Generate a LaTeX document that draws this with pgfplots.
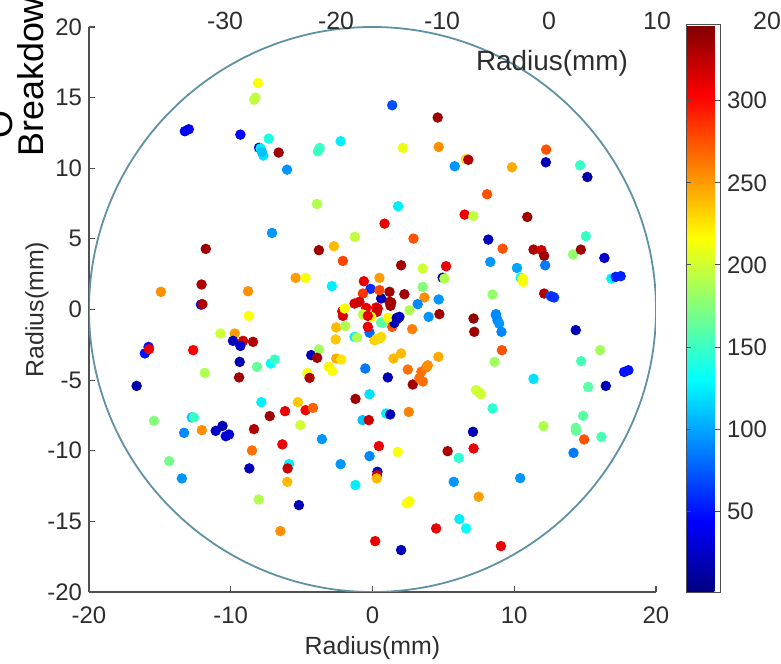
\documentclass[border=0pt]{standalone}
\usepackage{fontspec}
\setmainfont{Liberation Sans}
\usepackage{pgfplots}
\pgfplotsset{compat=1.18}
\definecolor{axgray}{RGB}{80,80,80}
\definecolor{txtgray}{RGB}{45,45,45}
\definecolor{wafer}{RGB}{95,145,165}

\pgfplotstableread{
x y c
-8.08 16.04 215
-8.35 14.85 195
-8.25 15.0 195
-13.24 12.62 40
-12.96 12.76 40
-9.32 12.38 45
-7.32 12.10 140
-8.0 11.45 30
-7.9 11.4 125
-7.7 10.9 120
-7.8 11.15 110
-6.62 11.11 335
-6.03 9.90 95
-3.85 11.20 150
-3.73 11.44 150
-2.25 11.91 125
-3.92 7.47 190
-7.09 5.42 95
-1.25 5.14 195
-11.76 4.29 335
-3.78 4.20 335
-2.72 4.48 240
-2.09 3.44 280
-5.42 2.24 250
-4.72 2.24 215
-14.93 1.25 255
-12.06 1.77 330
-12.1 0.35 40
-12.0 0.38 330
-8.78 1.29 255
-2.87 1.65 125
-0.61 2.00 310
-0.14 1.46 60
-8.73 -0.45 215
1.39 14.46 70
4.60 13.59 335
2.14 11.44 210
4.67 11.51 255
5.80 10.14 95
6.6 10.65 230
6.76 10.60 330
9.84 10.07 245
12.25 11.32 275
12.23 10.42 20
14.65 10.21 150
15.16 9.38 15
8.08 8.16 275
1.81 7.31 125
6.50 6.72 310
7.11 6.62 195
10.92 6.55 335
0.85 6.08 310
2.89 5.02 275
8.17 4.95 20
9.18 4.31 275
11.36 4.24 330
11.92 4.20 320
12.11 3.80 335
15.05 5.19 150
14.15 3.89 180
14.70 4.24 335
16.36 3.65 25
16.85 2.19 125
17.16 2.31 55
17.51 2.36 55
8.31 3.37 95
10.19 2.94 100
12.18 3.13 85
10.45 2.25 130
10.59 2.19 215
10.62 1.95 215
2.02 3.13 335
3.54 2.90 200
5.19 3.06 310
4.95 2.25 1
5.07 2.19 190
0.49 2.24 250
8.47 1.06 180
12.11 1.13 330
12.58 0.94 70
12.82 0.85 70
12.7 0.9 60
1.20 1.25 335
2.25 1.08 335
3.66 0.85 255
4.67 0.71 95
3.19 0.38 90
2.61 -0.05 190
4.72 -0.33 335
3.96 -0.52 95
8.71 -0.33 90
7.13 -0.64 340
1.90 -0.52 20
1.20 0.54 335
0.61 0.78 20
0.26 0.14 310
3.54 1.60 175
-10.73 -1.70 200
-9.72 -1.70 250
-9.13 -2.22 320
-8.43 -2.29 330
-9.84 -2.22 20
-9.32 -2.58 25
-12.65 -2.88 305
-15.80 -2.65 50
-16.06 -3.11 50
-15.77 -2.81 310
-9.37 -3.71 20
-11.83 -4.49 190
-9.41 -4.81 335
-16.64 -5.41 15
-8.15 -4.06 165
-7.18 -3.82 130
-6.90 -3.54 150
-4.32 -3.23 20
-3.78 -2.83 185
-3.90 -3.42 335
-4.60 -4.49 215
-3.08 -4.06 220
-2.84 -4.35 215
-4.44 -4.84 330
-2.56 -3.47 245
-2.20 -3.54 225
-2.60 -2.12 235
-2.56 -1.27 240
-0.51 -4.18 85
-0.21 -6.00 120
-1.20 -6.33 335
-7.84 -6.56 125
-7.25 -7.55 335
-6.17 -7.20 310
-5.26 -6.56 235
-4.72 -7.13 305
-4.20 -6.96 270
-5.09 -8.19 200
-12.75 -7.64 110
-12.6 -7.64 150
-15.42 -7.88 175
-13.29 -8.73 90
-12.04 -8.54 255
-11.06 -8.59 25
-10.58 -8.24 20
-10.35 -8.97 30
-10.12 -8.85 30
-8.36 -8.47 330
-8.50 -9.98 265
-6.36 -9.55 310
-5.89 -10.95 125
-5.99 -11.25 320
-6.01 -12.20 240
-3.57 -9.18 95
-2.25 -10.95 95
-8.69 -11.25 20
-14.34 -10.74 170
-13.45 -11.96 95
-8.03 -13.45 190
-5.19 -13.85 20
-6.50 -15.69 255
-1.20 -12.43 125
0.19 -16.40 310
-0.21 -10.38 90
-0.70 -7.83 110
-0.26 -7.83 320
0.45 -9.67 310
0.35 -11.49 20
0.32 -11.73 320
0.30 -11.96 240
8.71 -0.40 90
8.82 -0.76 90
8.94 -1.00 95
9.10 -1.58 90
7.18 -1.58 335
9.13 -2.88 275
8.61 -3.71 185
14.34 -1.46 20
16.06 -2.88 185
14.72 -3.66 155
17.75 -4.42 50
18.05 -4.30 50
16.46 -5.41 20
15.21 -5.48 160
11.36 -4.91 120
7.30 -5.71 200
7.50 -5.85 200
7.65 -6.00 200
8.47 -7.00 145
14.86 -7.53 160
14.34 -8.38 165
14.36 -8.59 165
14.93 -9.20 275
16.15 -9.02 155
12.06 -8.26 190
14.18 -10.15 85
7.09 -8.66 20
7.13 -9.84 310
5.30 -10.03 330
6.08 -10.50 145
5.73 -12.20 95
10.42 -11.94 95
7.49 -13.26 250
2.42 -13.73 215
2.61 -13.57 215
6.13 -14.84 125
6.60 -15.50 130
4.49 -15.50 310
2.02 -17.03 20
9.06 -16.75 310
1.78 -10.08 215
0.96 -7.36 125
1.25 -7.43 20
2.56 -7.25 260
1.08 -4.81 20
2.84 -5.31 335
3.31 -4.85 265
3.55 -5.10 265
3.45 -4.40 265
3.80 -4.10 260
3.90 -3.95 255
2.49 -4.25 265
1.48 -3.47 240
2.02 -3.11 240
4.65 -3.35 245
2.80 -1.39 260
0.14 -2.17 235
0.49 -2.05 235
1.39 -1.23 275
1.78 -0.64 20
1.55 -0.95 20
0.73 -0.95 170
-0.21 -1.64 80
-0.68 1.13 285
0.49 1.37 280
-1.27 0.42 315
-0.92 0.54 320
1.32 0.50 335
1.27 0.26 335
-0.44 0.11 310
0.37 0.07 315
0.30 -0.17 320
-2.13 -0.12 315
-2.09 -0.45 315
-1.97 0.07 215
-0.68 -0.35 195
-0.09 -0.52 215
0.61 -0.92 160
-0.33 -0.45 310
-0.33 -1.23 310
1.08 -0.59 220
1.71 -0.59 20
-1.92 -1.18 190
-1.27 -1.94 125
-1.10 -1.98 190
0.26 -2.10 230
0.61 -1.94 230
}\pts

\begin{document}
\begin{tikzpicture}
\path[use as bounding box] (-44.5bp,-36bp) rectangle (346bp,296bp);
\begin{axis}[
  at={(0,0)}, anchor=south west,
  scale only axis, width=283.5bp, height=282.5bp,
  xmin=-20, xmax=20, ymin=-20, ymax=20,
  axis lines*=left,
  axis line style={axgray, line width=0.6bp},
  tick align=inside, major tick length=3bp,
  tick style={axgray, line width=0.6bp},
  xtick={-20,-10,...,20}, ytick={-20,-15,...,20},
  /pgf/number format/assume math mode=true,
  ticklabel style={font=\fontsize{12}{14}\selectfont, text=txtgray},
  xticklabel style={yshift=-4bp},
  xlabel={Radius(mm)}, ylabel={Radius(mm)},
  label style={font=\fontsize{12.5}{14}\selectfont, text=txtgray},
  xlabel style={at={(axis description cs:0.5,-0.099)}, anchor=center},
  ylabel style={at={(axis description cs:-0.092,0.5)}, anchor=center},
  colormap/jet,
  point meta min=1, point meta max=346,
  colorbar,
  colorbar style={
    at={(parent axis.south east)}, anchor=south west, xshift=6.5bp,
    scale only axis, width=17bp, height=283.5bp,
    ytick={50,100,...,300},
    ytick align=inside, major tick length=2.5bp,
    axis line style={axgray, line width=0.5bp},
    tick style={axgray, line width=0.5bp},
    /pgf/number format/assume math mode=true,
    yticklabel style={font=\fontsize{12}{14}\selectfont, text=txtgray},
  },
]
\draw[wafer, line width=0.9bp] (axis cs:0,0) ellipse [x radius=20, y radius=20];
\addplot[scatter, only marks, mark=*, mark size=2.4bp,
  scatter/use mapped color={draw=mapped color, fill=mapped color},
  point meta=explicit] table[x=x, y=y, meta=c] {\pts};
\end{axis}
% cropped neighbouring panel (top axis labels and title)
\begin{scope}[font=\fontsize{12.5}{14}\selectfont, text=txtgray]
\node at (68bp,285.5bp) {-30};
\node at (123.5bp,285.5bp) {-20};
\node at (176.5bp,285.5bp) {-10};
\node at (230bp,285.5bp) {0};
\node at (284bp,285.5bp) {10};
\node at (339bp,285.5bp) {20};
\end{scope}
\node[font=\fontsize{14}{16}\selectfont, text=txtgray] at (231.5bp,264.5bp) {Radius(mm)};
\node[rotate=90, anchor=base west, inner sep=0pt, text=black, font=\fontsize{18}{20}\selectfont] at (-23bp,217.5bp) {Breakdow};
\node[rotate=90, anchor=base, inner sep=0pt, text=black, font=\fontsize{18}{20}\selectfont] at (-38.5bp,233.5bp) {O};
\end{tikzpicture}
\end{document}
